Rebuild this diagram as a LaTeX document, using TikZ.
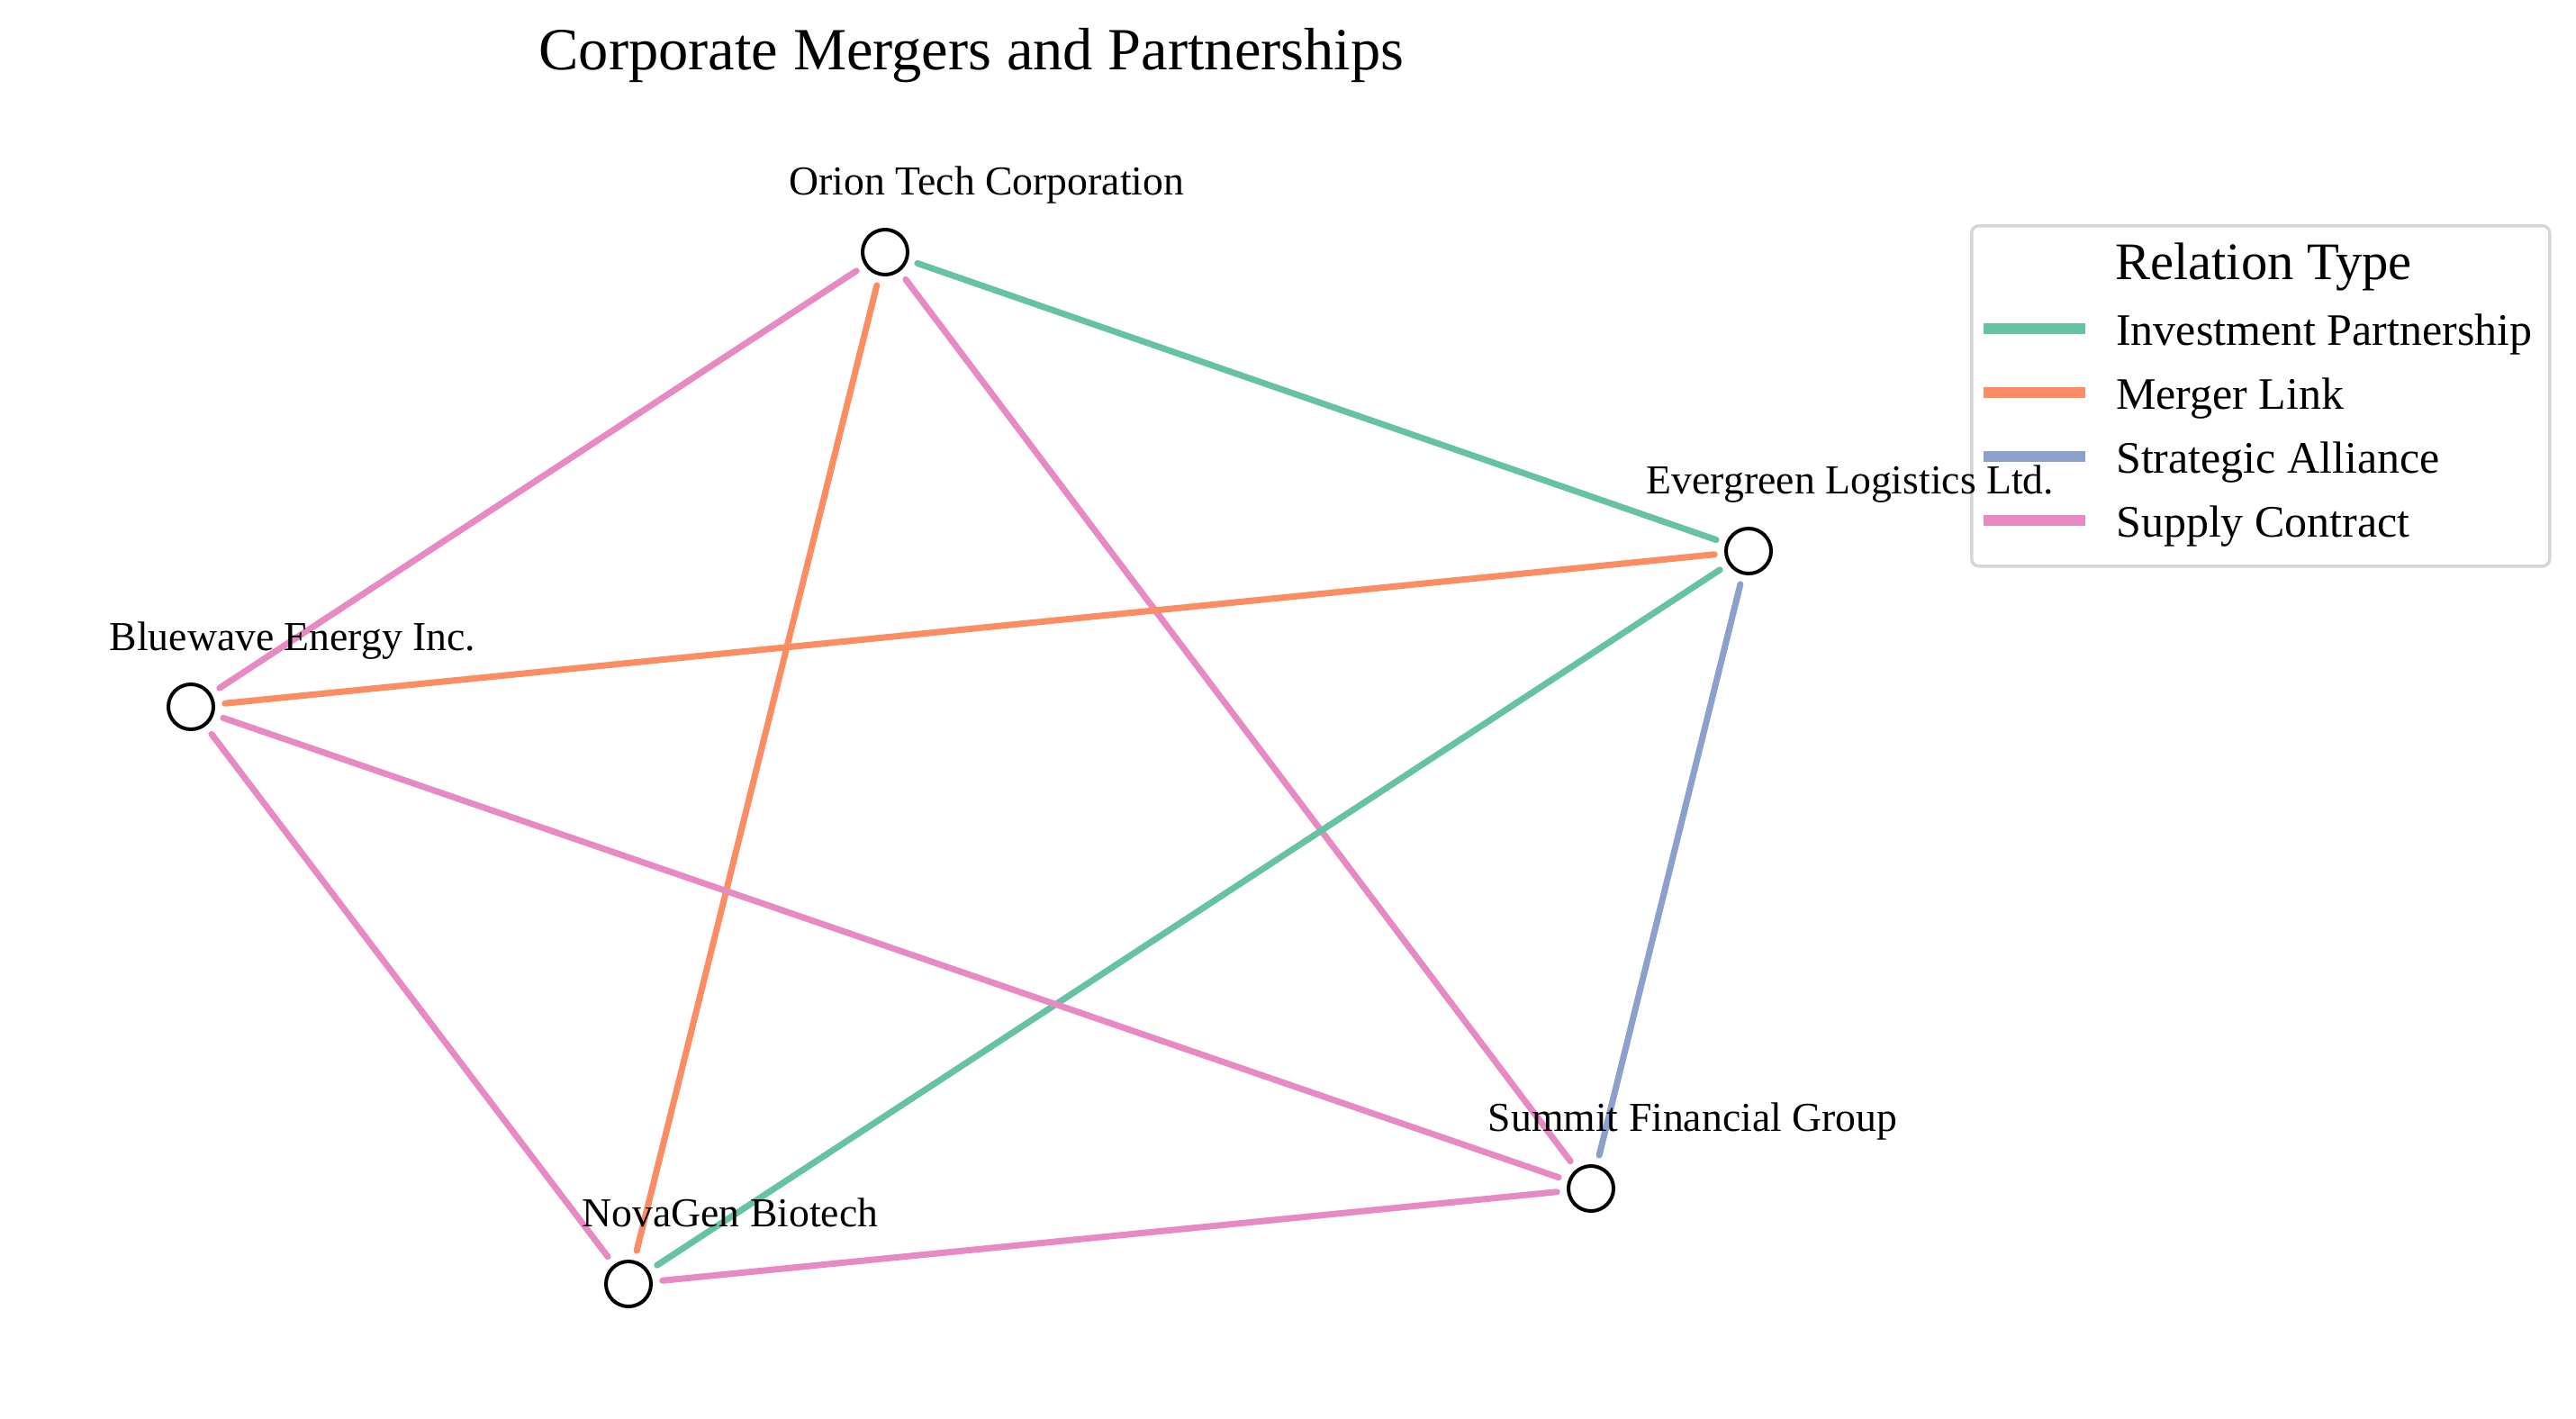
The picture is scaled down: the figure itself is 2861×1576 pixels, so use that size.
\documentclass[tikz,border=0pt]{standalone}
\usepackage{fontspec}
\setmainfont{Liberation Serif}
\usetikzlibrary{backgrounds}
\definecolor{cInv}{HTML}{66C2A5}
\definecolor{cMer}{HTML}{FC8D62}
\definecolor{cAll}{HTML}{8DA0CB}
\definecolor{cSup}{HTML}{E78AC3}
\definecolor{legendgray}{HTML}{D6D6D6}
\begin{document}
\begin{tikzpicture}[x=1pt,y=-1pt,
  company/.style={circle, draw=black, line width=4pt, fill=white, minimum size=50pt, inner sep=0pt},
  lbl/.style={anchor=base, inner sep=0pt, font=\fontsize{45.7}{45.7}\selectfont},
  edge/.style={line width=7pt, line cap=round, shorten <=11pt, shorten >=11pt},
  invest/.style={edge, draw=cInv},
  merger/.style={edge, draw=cMer},
  alliance/.style={edge, draw=cAll},
  supply/.style={edge, draw=cSup},
  legline/.style={line width=12.5pt},
  legtext/.style={anchor=base west, inner sep=0pt, font=\fontsize{50}{50}\selectfont}]
\useasboundingbox (0,0) rectangle (2861,1576);

% title
\node[anchor=base, inner sep=0pt, font=\fontsize{66.5}{66.5}\selectfont] (title) at (1079,78) {Corporate Mergers and Partnerships};

% legend
\node[draw=legendgray, line width=3.5pt, rounded corners=8pt, minimum width=642pt, minimum height=378pt, anchor=north west, inner sep=0pt] (legend) at (2188,249) {};
\node[anchor=base west, inner sep=0pt, font=\fontsize{58.6}{58.6}\selectfont] (legtitle) at (2349,310) {Relation Type};
\coordinate (l1a) at (2203,365); \coordinate (l1b) at (2316,365);
\coordinate (l2a) at (2203,436); \coordinate (l2b) at (2316,436);
\coordinate (l3a) at (2203,507); \coordinate (l3b) at (2316,507);
\coordinate (l4a) at (2203,578); \coordinate (l4b) at (2316,578);
\draw[legline, cInv] (l1a) -- (l1b);
\draw[legline, cMer] (l2a) -- (l2b);
\draw[legline, cAll] (l3a) -- (l3b);
\draw[legline, cSup] (l4a) -- (l4b);
\node[legtext] (t1) at (2350,383) {Investment Partnership};
\node[legtext] (t2) at (2350,454) {Merger Link};
\node[legtext] (t3) at (2350,525) {Strategic Alliance};
\node[legtext] (t4) at (2350,596) {Supply Contract};

% companies
\node[company] (orion) at (983,280) {};
\node[company] (ever) at (1942,612) {};
\node[company] (blue) at (212,785) {};
\node[company] (nova) at (698,1426) {};
\node[company] (summit) at (1767,1320) {};

% relations
\begin{scope}[on background layer]
\draw[invest] (orion) -- (ever);
\draw[supply] (orion) -- (blue);
\draw[merger] (orion) -- (nova);
\draw[supply] (orion) -- (summit);
\draw[merger] (ever) -- (blue);
\draw[invest] (ever) -- (nova);
\draw[alliance] (ever) -- (summit);
\draw[supply] (blue) -- (summit);
\draw[supply] (blue) -- (nova);
\draw[supply] (nova) -- (summit);
\end{scope}

% labels
\node[lbl] (orionL) at (1096,216) {Orion Tech Corporation};
\node[lbl] (everL) at (2055,548) {Evergreen Logistics Ltd.};
\node[lbl] (blueL) at (325,722) {Bluewave Energy Inc.};
\node[lbl] (novaL) at (811,1362) {NovaGen Biotech};
\node[lbl] (summitL) at (1880,1256) {Summit Financial Group};
\end{tikzpicture}
\end{document}
